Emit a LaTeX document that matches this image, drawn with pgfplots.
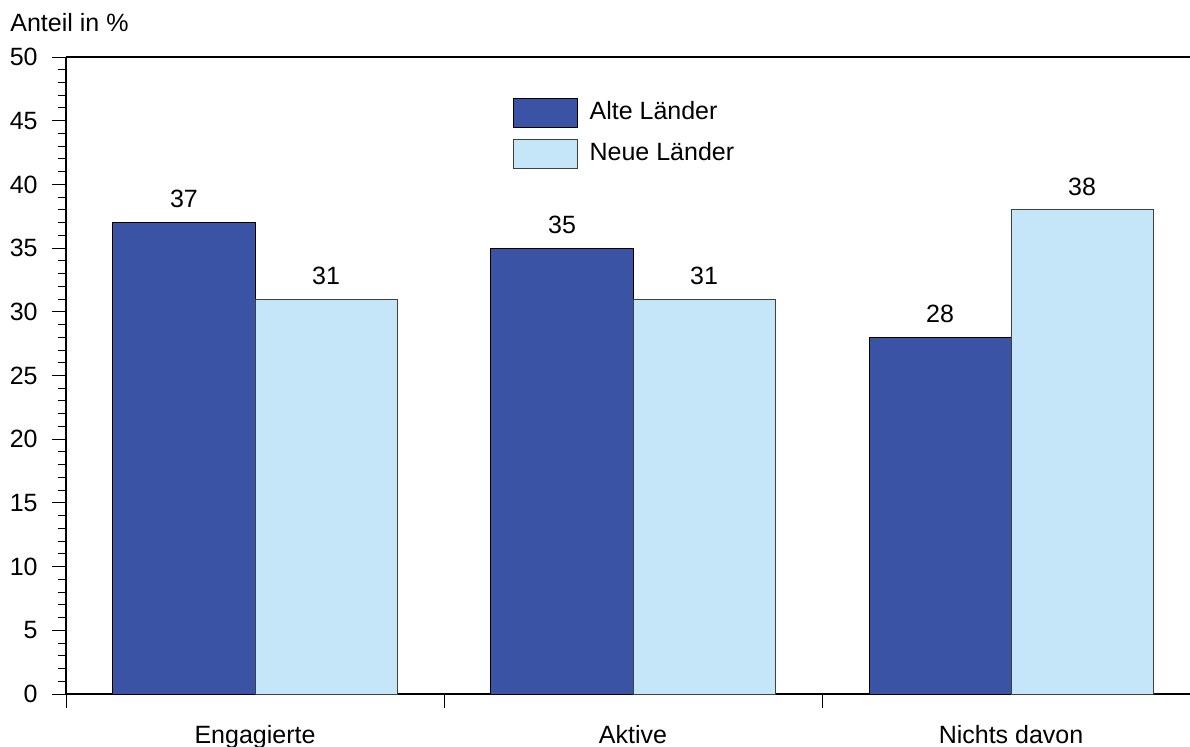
\documentclass[border=0pt]{standalone}
\usepackage{fontspec}
\setmainfont{Liberation Sans}
\usepackage{pgfplots}
\pgfplotsset{compat=1.18}
\definecolor{alt}{HTML}{3A53A4}
\definecolor{neu}{HTML}{C4E6F8}
\begin{document}
\fontsize{12.5}{15}\selectfont
\begin{tikzpicture}
\useasboundingbox (-33pt,-26pt) rectangle (562pt,347pt);
\begin{axis}[
  scale only axis, width=562pt, height=318.5pt,
  xmin=-0.5, xmax=2.4735, ymin=0, ymax=50,
  clip=false,
  axis x line*=bottom, axis y line*=left,
  axis line style={line width=0.75pt, -},
  ybar=0pt, bar width=0.3757,
  xtick={-0.5,0.5,1.5,2.5}, xticklabels={},
  extra x ticks={0,1,2},
  extra x tick labels={Engagierte,Aktive,Nichts davon},
  extra x tick style={major tick length=0pt, xticklabel style={anchor=north, inner sep=0pt, yshift=-15.5pt}},
  ytick={0,5,...,50}, minor ytick={0,1,...,50},
  tick align=outside, major tick length=7pt, minor tick length=4pt,
  tick style={line width=0.5pt, black},
  yticklabel style={anchor=east, inner sep=0pt, xshift=-7pt},
  /pgf/number format/assume math mode=true,
  ticklabel style={font=\fontsize{12.5}{15}\selectfont},
  nodes near coords,
  nodes near coords style={font=\fontsize{12.5}{15}\selectfont, anchor=south, inner sep=0pt, yshift=7pt, black},
  legend image code/.code={\draw[#1] (0pt,-7.25pt) rectangle (32pt,7.25pt);},
  legend style={draw=none, fill=none, at={(rel axis cs:0.397,0.937)}, anchor=north west, inner sep=0pt, row sep=5.5pt, font=\fontsize{12.5}{15}\selectfont, nodes={inner sep=0pt, anchor=west}},
  legend cell align=left,
]
\addplot[fill=alt, draw=black, line width=0.5pt] coordinates {(0,37) (1,35) (2,28)};
\addplot[fill=neu, draw=black!75, line width=0.5pt] coordinates {(0,31) (1,31) (2,38)};
\legend{\hspace{6pt}Alte Länder, \hspace{6pt}Neue Länder}
\draw[line width=0.75pt] (rel axis cs:0,1) -- (rel axis cs:1,1);
\node[anchor=base west, inner sep=0pt, xshift=-28pt, yshift=13pt] at (rel axis cs:0,1) {Anteil in \%};
\end{axis}
\end{tikzpicture}
\end{document}
